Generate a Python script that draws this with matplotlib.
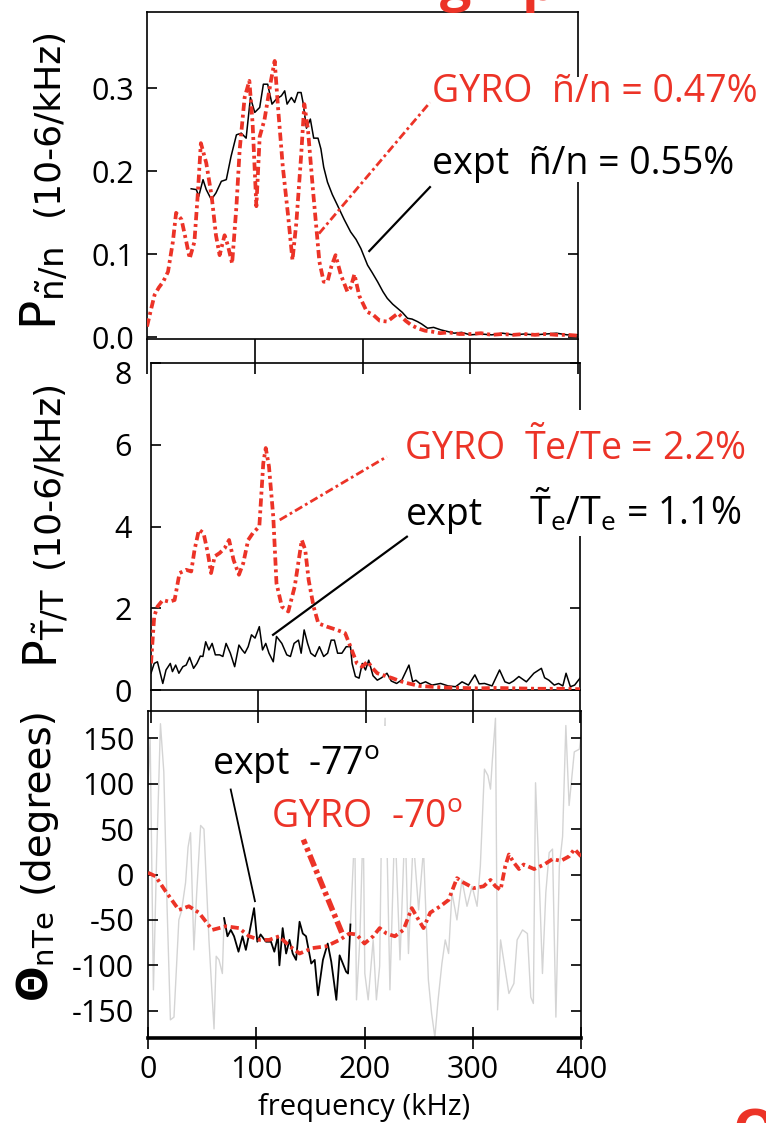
import matplotlib
matplotlib.use("Agg")
import matplotlib.pyplot as plt
from matplotlib.patches import Rectangle
from matplotlib.transforms import ScaledTranslation

plt.rcParams['font.family'] = ['Open Sans', 'DejaVu Sans']
plt.rcParams['axes.unicode_minus'] = False
plt.rcParams['mathtext.fontset'] = 'custom'
plt.rcParams['mathtext.rm'] = 'Open Sans'
plt.rcParams['mathtext.it'] = 'Open Sans:italic'
plt.rcParams['mathtext.bf'] = 'DejaVu Sans:bold'
plt.rcParams['mathtext.sf'] = 'DejaVu Sans'

RED, GRAY = "#ec3327", "#d4d4d4"

# ---- panel 1: density fluctuation spectrum (10^-6/kHz) ----
n_gyro_f = [0, 4, 7, 11, 15, 19.5, 24, 27, 32, 36.5, 39.6, 44, 47, 50, 55, 60, 64, 67.4,
            72, 75, 79, 83, 86, 90.6, 95, 98, 101.5, 104.6, 109, 115, 118.5, 121.6, 126,
            131, 135, 138.6, 143, 146, 149.4, 154, 160, 164, 167.5, 171, 175, 180, 186,
            189, 192.5, 197, 204, 210, 216, 223, 229, 233, 240, 245, 251, 258, 264, 272,
            280, 290, 300, 310, 320, 330, 340, 350, 360, 370, 380, 390, 400]
n_gyro_p = [0.013, 0.035, 0.051, 0.060, 0.067, 0.079, 0.115, 0.150, 0.142, 0.115, 0.095,
            0.115, 0.170, 0.234, 0.210, 0.170, 0.123, 0.099, 0.123, 0.111, 0.089, 0.158,
            0.226, 0.289, 0.309, 0.258, 0.158, 0.242, 0.262, 0.309, 0.333, 0.277, 0.206,
            0.146, 0.093, 0.138, 0.218, 0.281, 0.250, 0.178, 0.091, 0.067, 0.067, 0.085,
            0.099, 0.075, 0.055, 0.060, 0.076, 0.050, 0.031, 0.027, 0.020, 0.019, 0.025,
            0.029, 0.020, 0.015, 0.011, 0.008, 0.007, 0.005, 0.006, 0.004, 0.004, 0.005,
            0.003, 0.004, 0.003, 0.004, 0.003, 0.004, 0.003, 0.003, 0.002]
n_expt_f = [41, 45.8, 48, 52, 55, 59.7, 64, 69, 73.6, 78, 83, 87.5, 92, 96, 100, 104.6,
            108, 112, 116, 120, 124.7, 127.8, 130, 134, 137, 140, 143, 144.8, 148, 151.6,
            154.7, 158.7, 161.4, 164, 167.5, 172, 176.8, 183, 189, 194, 198.5, 204.7, 209,
            214, 219, 223, 228, 232.5, 237, 241.8, 246, 251, 255, 260.4, 266, 272.7, 279,
            285, 292, 300, 310, 320, 330, 340, 350, 360, 370, 380, 390, 400]
n_expt_p = [0.179, 0.178, 0.170, 0.190, 0.178, 0.166, 0.174, 0.188, 0.190, 0.218, 0.244,
            0.246, 0.240, 0.289, 0.271, 0.277, 0.305, 0.305, 0.281, 0.287, 0.291, 0.297,
            0.281, 0.289, 0.283, 0.295, 0.295, 0.283, 0.252, 0.263, 0.240, 0.240, 0.227,
            0.205, 0.187, 0.172, 0.159, 0.142, 0.127, 0.118, 0.107, 0.087, 0.078, 0.067,
            0.055, 0.047, 0.040, 0.035, 0.030, 0.023, 0.022, 0.019, 0.016, 0.011, 0.012,
            0.009, 0.007, 0.005, 0.006, 0.003, 0.004, 0.003, 0.005, 0.003, 0.004, 0.003,
            0.004, 0.005, 0.003, 0.003]

# ---- panel 2: electron temperature fluctuation spectrum ----
t_gyro_f = [0, 3, 6, 11, 17, 22, 26.6, 32.8, 37.5, 40.6, 44.7, 49, 53, 56, 59.4, 64, 68.7,
            72.8, 77, 82, 86, 90.6, 95, 101, 104.7, 107, 110, 114, 117, 122, 128, 134,
            140.6, 143.8, 147, 151.6, 156, 164, 173.4, 181, 186, 192, 197, 202, 206, 211,
            218, 225, 232, 238.6, 250, 261, 275, 290, 305, 320, 340, 360, 380, 400]
t_gyro_p = [0.65, 1.8, 2.04, 2.2, 2.16, 2.2, 2.86, 2.94, 2.9, 3.43, 3.92, 3.84, 3.35, 2.86,
            3.27, 3.35, 3.47, 3.67, 3.18, 2.82, 3.1, 3.67, 3.84, 4.0, 5.55, 5.92, 5.47,
            4.24, 2.61, 2.04, 1.92, 2.53, 3.67, 3.43, 2.69, 2.04, 1.63, 1.55, 1.47, 1.39,
            1.06, 0.65, 0.57, 0.70, 0.55, 0.41, 0.35, 0.29, 0.22, 0.17, 0.10, 0.08, 0.06,
            0.05, 0.04, 0.05, 0.04, 0.03, 0.03, 0.02]
t_expt_f = [0, 3, 6, 11, 14, 18, 20, 23, 26, 29.7, 32.8, 36, 39.7, 42.8, 46, 48.4, 51, 54,
            57, 60, 64, 67, 70, 74, 78, 82, 85, 87.5, 90.6, 93.7, 97, 101, 104, 107, 110,
            114, 117, 122, 126.6, 130, 133.4, 137.5, 140, 142.8, 146, 149, 153, 157, 161,
            164.7, 168, 171, 174, 178, 182, 186, 187.5, 190.6, 194, 197, 200, 203, 207,
            211, 215, 220, 224, 229, 234, 240.5, 244, 247, 251, 256, 262, 270, 277, 284,
            290, 296, 302, 306, 311, 318, 325, 330, 334, 338, 343, 350, 357, 364, 367, 371,
            376, 380, 384, 387, 391, 395, 400]
t_expt_p = [0.41, 0.65, 0.69, 0.16, 0.49, 0.65, 0.45, 0.61, 0.41, 0.57, 0.61, 0.80, 0.53,
            0.65, 0.83, 0.82, 1.18, 0.98, 1.14, 0.86, 0.86, 0.82, 1.14, 0.90, 0.57, 1.10,
            0.98, 0.90, 1.06, 1.35, 1.27, 1.55, 0.98, 1.14, 0.90, 0.69, 1.31, 1.14, 0.86,
            0.82, 1.14, 1.22, 0.90, 1.47, 1.14, 0.90, 0.82, 1.06, 0.82, 0.90, 1.22, 1.22,
            0.90, 0.90, 1.06, 1.06, 0.65, 0.33, 0.29, 0.65, 0.49, 0.73, 0.35, 0.24, 0.30,
            0.41, 0.22, 0.16, 0.25, 0.61, 0.20, 0.24, 0.15, 0.20, 0.12, 0.16, 0.10, 0.08,
            0.20, 0.12, 0.37, 0.15, 0.16, 0.10, 0.49, 0.20, 0.16, 0.22, 0.33, 0.20, 0.41,
            0.53, 0.30, 0.24, 0.12, 0.16, 0.10, 0.41, 0.08, 0.12, 0.29]

# ---- panel 3: cross phase n-Te (degrees) ----
ph_gyro_f = [0, 7, 16, 28.5, 37.8, 47, 59.4, 72, 84, 93.5, 103, 112, 121, 131, 140, 152,
             164.7, 177, 186, 192.6, 200, 208, 214, 220.4, 228, 236, 243.7, 250, 254.5,
             260.7, 270, 277.7, 285.4, 291.6, 301, 310, 316.4, 321, 325.7, 330, 333.4, 338,
             342.7, 347, 356.7, 366, 373.7, 381.4, 389, 394, 400]
ph_gyro_v = [2, -2, -18, -39, -35, -42, -61, -57, -59, -68, -72, -72, -68, -79, -87, -81,
             -79, -72, -65, -66, -76, -68, -59, -65, -68, -61, -37, -50, -59, -42, -35, -28,
             -4, -9, -15, -13, -6, -13, -17, 9, 22, 13, 6, 11, 6, 11, 17, 15, 20, 28, 20]
ph_expt_f = [70.3, 73.4, 76.5, 79.5, 83.6, 87.3, 90.4, 93.5, 98, 101, 104, 109, 113.6,
             116.7, 120, 121.4, 124.4, 127.6, 130.7, 133.7, 136.8, 140, 143, 146, 150.8,
             154, 157, 161.6, 166, 169.3, 174, 177, 180, 183, 184.8, 187]
ph_expt_v = [-48, -68, -61, -68, -85, -68, -83, -65, -37, -74, -66, -74, -74, -85, -68,
             -100, -59, -87, -72, -87, -94, -52, -65, -68, -98, -94, -133, -94, -76, -96,
             -138, -89, -98, -107, -109, -55]
# low-coherence expt phase (grey), below and above the coherent band
ph_low_f = [0, 2, 5, 8, 11.5, 14.6, 17.6, 20.7, 24, 28.5, 31, 34.7, 37, 39.3, 42.4, 45,
            48.6, 51.7, 56.3, 61, 63, 65.6, 68.7, 70.3]
ph_low_v = [100, 149, -127, 20, 166, 113, -35, -160, -157, -50, -40, -9, 30, 46, -83, -20,
            54, 50, -72, -170, -90, -94, -109, -48]
ph_high_f = [187, 191, 192.6, 195.7, 198.8, 200.3, 203.4, 208, 211, 214, 215.8, 219, 220.4,
             223.5, 228, 232.8, 237.5, 240.6, 245, 250, 254.5, 259, 262, 265, 268, 271.5,
             274.6, 277.7, 280.8, 285.4, 290, 294.7, 299.4, 304, 307, 310.8, 314, 316.4,
             318, 321, 323, 325.7, 330, 333.4, 338, 341, 346, 350.5, 353.6, 356, 358, 361,
             364.4, 367.5, 370.6, 373.7, 376.8, 380, 383, 386, 389, 393.8, 398.5, 400]
ph_high_v = [-55, 50, -138, -72, 60, -109, -138, -72, -138, -101, 60, 172, 55, -127, 60, -94,
             60, -87, 40, -39, 28, -116, -153, -179, -138, -98, -72, -87, -20, -50, -6,
             -35, -13, -35, 9, 116, 109, 94, 124, 172, -149, -72, -105, -131, -120, -72,
             -61, -65, -135, -142, 101, 9, -109, -20, 24, 28, -157, 9, 42, 164, 76, 135,
             138, 153]

# pointer lines (data coords) from curve to label
n_gyro_ptr = ([159.6, 262.6], [0.125, 0.283])
n_expt_ptr = ([206.3, 262.6], [0.104, 0.181])
t_gyro_ptr = ([120, 220], [4.16, 5.71])
t_expt_ptr = ([113.8, 238.6], [1.35, 3.75])
ph_expt_ptr = ([98.8, 76.4], [-29.4, 93.6])
ph_gyro_ptr = ([179, 143.5], [-64, 38.5])

W, H = 766, 1123
fig = plt.figure(figsize=(W / 100, H / 100), dpi=100)


def px_axes(l, t, r, b):
    return fig.add_axes([l / W, 1 - b / H, (r - l) / W, (b - t) / H], facecolor="none")


ax1 = px_axes(147, 12, 578, 339)
ax2 = px_axes(151, 363, 580, 690)
ax3 = px_axes(148, 711, 581, 1038)

GY_DASH = (2.2, 1.0, 0.8, 1.0)
TICK_FS = 22

for ax in (ax1, ax2, ax3):
    ax.set_xlim(0, 400)
    ax.set_xticks([0, 100, 200, 300, 400])
    for s in ax.spines.values():
        s.set_linewidth(1.2)
    ax.tick_params(axis="y", which="both", direction="in", length=7.5, width=1.2,
                   left=True, right=True, labelsize=TICK_FS)
    ax.tick_params(axis="x", width=1.2, labelsize=TICK_FS)

# ---- panel 1 ----
ax1.plot(n_expt_f, n_expt_p, color="black", lw=1.1, zorder=3)
ax1.plot(n_gyro_f, n_gyro_p, color=RED, lw=2.7, dashes=GY_DASH, zorder=4)
ax1.plot(*n_gyro_ptr, color=RED, lw=2.0, dashes=(3, 1.2, 1, 1.2), zorder=4)
ax1.plot(*n_expt_ptr, color="black", lw=1.6, zorder=4)
ax1.set_ylim(-0.002, 0.392)
ax1.set_yticks([0.0, 0.1, 0.2, 0.3])
ax1.set_yticklabels(["0.0", "0.1", "0.2", "0.3"])
ax1.tick_params(axis="y", pad=9)
# bottom ticks run down through the gap into the next panel
ax1.tick_params(axis="x", direction="out", length=25, top=False, labelbottom=False)
ax1.add_patch(Rectangle((0.97, 0.48), 0.06, 0.32, transform=ax1.transAxes,
                        facecolor="white", edgecolor="none", clip_on=False, zorder=2.6))
ax1.text(264.5, 0.283, "GYRO  ñ/n = 0.47%", color=RED, fontsize=27, zorder=5)
ax1.text(264.5, 0.197, "expt  ñ/n = 0.55%", color="black", fontsize=27, zorder=5)

# ---- panel 2 ----
ax2.plot(t_expt_f, t_expt_p, color="black", lw=1.1, zorder=3)
ax2.plot(t_gyro_f, t_gyro_p, color=RED, lw=2.7, dashes=GY_DASH, zorder=4)
ax2.plot(*t_gyro_ptr, color=RED, lw=2.0, dashes=(3, 1.2, 1, 1.2), zorder=4)
ax2.plot(*t_expt_ptr, color="black", lw=1.6, zorder=4)
ax2.set_ylim(0, 8.0)
ax2.set_yticks([0, 2, 4, 6, 8])
ax2.tick_params(axis="y", pad=14)
ax2.tick_params(axis="x", direction="out", length=24, top=False, labelbottom=False)
ax2.add_patch(Rectangle((0.97, 0.47), 0.06, 0.385, transform=ax2.transAxes,
                        facecolor="white", edgecolor="none", clip_on=False, zorder=2.6))
ax2.text(236, 5.63, r"GYRO  $\mathrm{\tilde{T}e/Te}$ = 2.2%", color=RED, fontsize=27,
         zorder=5)
ax2.text(238, 4.04, "expt", color="black", fontsize=27, zorder=5)
ax2.text(352.6, 4.04, r"$\mathrm{\tilde{T}_e/T_e}$ = 1.1%", color="black", fontsize=27,
         zorder=5)

# ---- panel 3 ----
ax3.plot(ph_low_f, ph_low_v, color=GRAY, lw=1.0, zorder=1)
ax3.plot(ph_high_f, ph_high_v, color=GRAY, lw=1.0, zorder=1)
# white frame behind the two labels (hides the grey trace there)
ax3.add_patch(Rectangle((55, 18), 233, 145, facecolor="white", edgecolor="none",
                        zorder=1.5))
ax3.plot(ph_gyro_f, ph_gyro_v, color=RED, lw=2.7, dashes=GY_DASH, zorder=4)
ax3.plot(ph_expt_f, ph_expt_v, color="black", lw=1.3, zorder=3)
ax3.plot(*ph_expt_ptr, color="black", lw=1.3, zorder=4)
ax3.plot(*ph_gyro_ptr, color=RED, lw=4.0, dashes=(2.2, 0.7, 0.7, 0.7), zorder=4)
ax3.set_ylim(-180, 180)
ax3.set_yticks([-150, -100, -50, 0, 50, 100, 150])
ax3.tick_params(axis="y", pad=10)
ax3.tick_params(axis="x", direction="inout", length=16, top=False, bottom=True, pad=4)
ax3.spines["bottom"].set_linewidth(2.6)
ax3.text(58.8, 110, r"expt  -77$^\mathrm{o}$", color="black", fontsize=27, zorder=5)
ax3.text(113.6, 51.3, r"GYRO  -70$^\mathrm{o}$", color=RED, fontsize=27, zorder=5)
ax3.set_xlabel("frequency (kHz)", fontsize=21, labelpad=6)

# top "8" label sits a little below its tick in the original
lab8 = ax2.get_yticklabels()[-1]
lab8.set_transform(lab8.get_transform() + ScaledTranslation(0, -7 / 72, fig.dpi_scale_trans))

# ---- y labels ----
fig.text(44 / W, 1 - 330 / H, r"$\mathsf{P}_{\mathsf{\tilde{n}/n}}$", fontsize=35,
         rotation=90, ha="center", va="bottom")
fig.text(48 / W, 1 - 216 / H, "(10-6/kHz)", family="DejaVu Sans", fontsize=26,
         rotation=90, ha="center", va="bottom")
fig.text(46 / W, 1 - 668 / H, r"$\mathsf{P}_{\mathsf{\tilde{T}/T}}$", fontsize=33,
         rotation=90, ha="center", va="bottom")
fig.text(48 / W, 1 - 568 / H, "(10-6/kHz)", family="DejaVu Sans", fontsize=26,
         rotation=90, ha="center", va="bottom")
fig.text(37 / W, 1 - 1002 / H, r"$\mathbf{\Theta}_{\mathsf{nTe}}$", fontsize=30,
         rotation=90, ha="center", va="bottom")
fig.text(37 / W, 1 - 893 / H, "(degrees)", family="DejaVu Sans", fontsize=28,
         rotation=90, ha="center", va="bottom")

# clipped fragments of slide text at the edges
fig.text(440 / W, 1.0, "g", color=RED, fontsize=40, fontweight="bold", va="baseline")
fig.text(522 / W, 1.0, "p", color=RED, fontsize=40, fontweight="bold", va="baseline")
fig.text(733 / W, 1 - 1150 / H, "O", color=RED, fontsize=40, fontweight="bold",
         va="baseline")

fig.savefig("out.png", dpi=100)
